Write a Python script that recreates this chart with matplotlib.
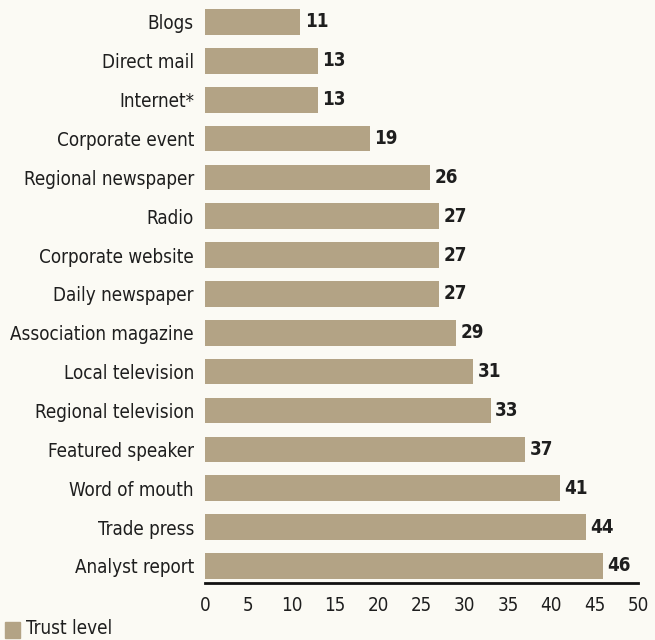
import numpy as np
import matplotlib.pyplot as plt
from matplotlib.patches import Rectangle

# Nivel de confianza por medio
medios = ["Blogs", "Direct mail", "Internet*", "Corporate event", "Regional newspaper",
          "Radio", "Corporate website", "Daily newspaper", "Association magazine",
          "Local television", "Regional television", "Featured speaker", "Word of mouth",
          "Trade press", "Analyst report"]
confianza = [11, 13, 13, 19, 26, 27, 27, 27, 29, 31, 33, 37, 41, 44, 46]
ticks_x = [0, 5, 10, 15, 20, 25, 30, 35, 40, 45, 50]

plt.rcParams['font.family'] = ['Liberation Sans Narrow', 'DejaVu Sans']
plt.rcParams['font.stretch'] = 'condensed'

color_barra = "#b3a385"
fondo = "#fbfaf4"
texto = "#1e1e1e"
tam = 13.5

fig = plt.figure(figsize=(6.55, 6.4), dpi=100, facecolor=fondo)
ax = fig.add_axes([0.313, 0.089, 0.661, 0.907], facecolor=fondo)

pos = np.arange(len(medios))[::-1]
ax.barh(pos, confianza, height=0.66, color=color_barra, edgecolor="none")

for p, v in zip(pos, confianza):
    ax.text(v + 0.5, p, str(v), va="center", ha="left", fontsize=tam,
            color=texto, fontweight="bold")

ax.set_yticks(pos)
ax.set_yticklabels(medios, fontsize=tam, color=texto)
ax.set_xticks(ticks_x)
ax.set_xticklabels([str(t) for t in ticks_x], fontsize=tam, color=texto)
ax.tick_params(axis="both", length=0)
ax.tick_params(axis="y", pad=8)
ax.tick_params(axis="x", pad=9)
ax.set_xlim(0, 50)
ax.set_ylim(-0.44, 14.5)

for lado in ["top", "right", "left"]:
    ax.spines[lado].set_visible(False)
ax.spines["bottom"].set_linewidth(2)
ax.spines["bottom"].set_color("#111111")
ax.spines["bottom"].set_bounds(0, 50)

# Leyenda
fig.patches.append(Rectangle((5 / 655, 1 - 638 / 640), 15 / 655, 16 / 640,
                             transform=fig.transFigure, color=color_barra))
fig.text(26 / 655, 1 - 629 / 640, "Trust level", fontsize=tam, va="center",
         ha="left", color=texto)

fig.savefig("out.png", dpi=100, facecolor=fondo)
